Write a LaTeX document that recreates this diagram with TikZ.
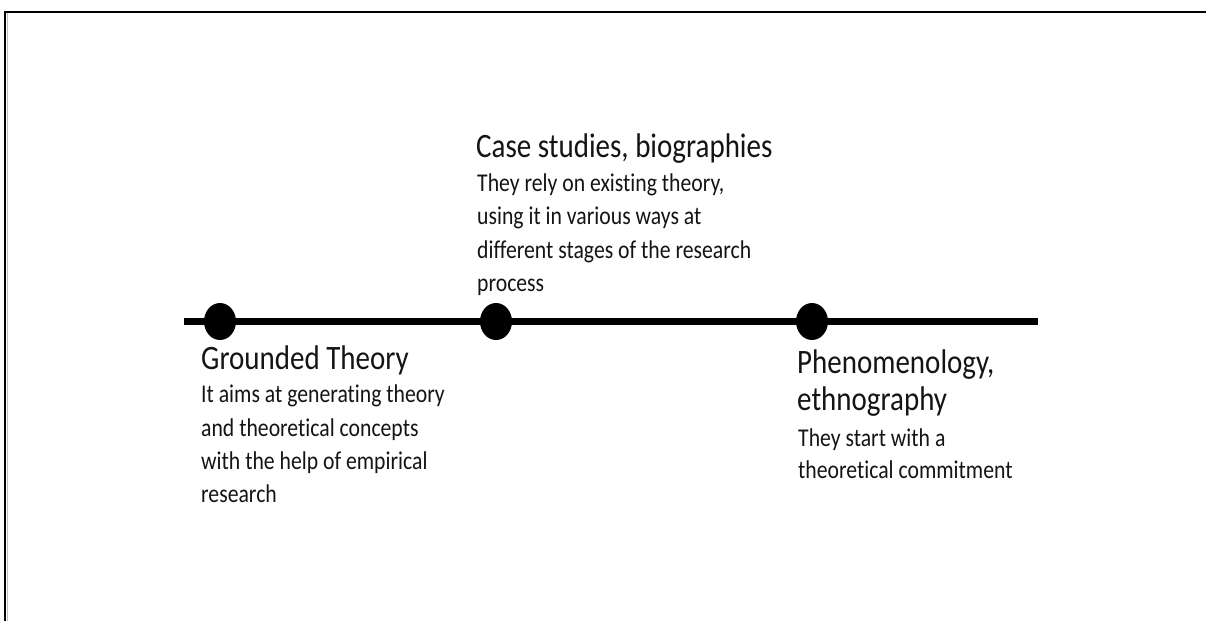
\documentclass[tikz,border=0pt]{standalone}
\usepackage{fontspec}
\usepackage{graphicx}
\setmainfont{Carlito}[Ligatures={NoCommon,NoRequired,NoContextual}]
\usetikzlibrary{shapes.geometric,backgrounds}
\definecolor{ink}{HTML}{141414}
% text set slightly taller than its natural proportions
\newcommand\talltext[1]{\scalebox{1}[1.18]{#1}}
\tikzset{
  frameline/.style={line width=2.6pt, black},
  timeline/.style={line width=6.5pt, black},
  milestone/.style={ellipse, fill=black, minimum width=32pt, minimum height=37pt, inner sep=0pt},
  heading/.style={anchor=base west, inner sep=0pt, text=ink, font=\fontsize{29}{35}\selectfont},
  bodyline/.style={anchor=base west, inner sep=0pt, text=ink, font=\fontsize{21.7}{26}\selectfont}
}
\begin{document}
\begin{tikzpicture}[x=1pt, y=-1pt]
  \useasboundingbox (0,0) rectangle (1206,621);
  % page frame: top and left edges
  \coordinate (fTL) at (5,12);
  \coordinate (fTR) at (1206,12);
  \coordinate (fBL) at (5,621);
  \coordinate (sT) at (7.5,13);
  \coordinate (sB) at (7.5,621);
  \draw[line width=1.2pt, black!25] (sT) -- (sB);
  \draw[frameline] (fTR) -- (fTL) -- (fBL);

  % timeline with three milestones
  \coordinate (lstart) at (184,321.5);
  \coordinate (lend) at (1038,321.5);
  \node[milestone] (m1) at (220,321.5) {};
  \node[milestone] (m2) at (496,321.5) {};
  \node[milestone] (m3) at (812,321.5) {};
  \begin{pgfonlayer}{background}
    \draw[timeline] (lstart) -- (m1.center) -- (m2.center) -- (m3.center) -- (lend);
  \end{pgfonlayer}

  % Grounded Theory
  \node[heading]  (gth) at (201,369) {\talltext{Grounded Theory}};
  \node[bodyline] (gt1) at (201,402) {\talltext{It aims at generating theory}};
  \node[bodyline] (gt2) at (201,436) {\talltext{and theoretical concepts}};
  \node[bodyline] (gt3) at (201,469) {\talltext{with the help of empirical}};
  \node[bodyline] (gt4) at (201,502) {\talltext{research}};

  % Case studies, biographies
  \node[heading]  (csh) at (476,157) {\talltext{Case studies, biographies}};
  \node[bodyline] (cs1) at (477,191) {\talltext{They rely on existing theory,}};
  \node[bodyline] (cs2) at (477,224) {\talltext{using it in various ways at}};
  \node[bodyline] (cs3) at (477,258) {\talltext{different stages of the research}};
  \node[bodyline] (cs4) at (477,291) {\talltext{process}};

  % Phenomenology, ethnography
  \node[heading]  (phh) at (797,373) {\talltext{Phenomenology,}};
  \node[heading]  (ph2) at (797,410) {\talltext{ethnography}};
  \node[bodyline] (ph3) at (798,446) {\talltext{They start with a}};
  \node[bodyline] (ph4) at (798,478) {\talltext{theoretical commitment}};
\end{tikzpicture}
\end{document}
